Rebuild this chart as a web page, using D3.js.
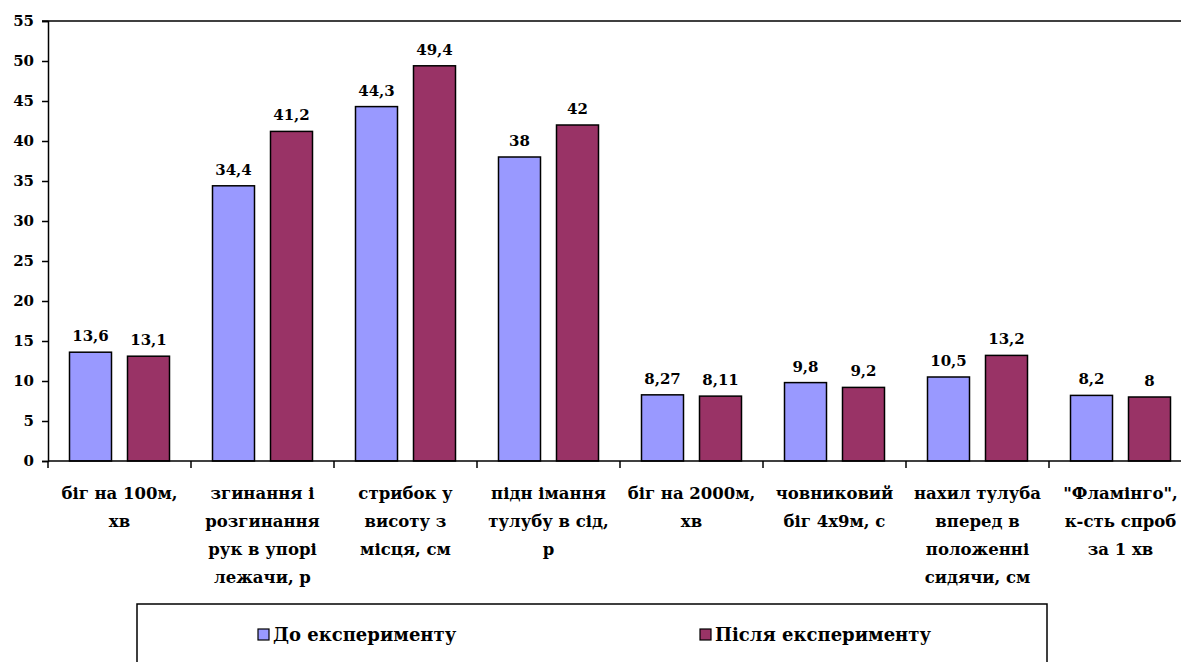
<!DOCTYPE html>
<html><head><meta charset="utf-8">
<script src="https://cdn.jsdelivr.net/npm/d3@7"></script>
<style>body{margin:0;background:#fff;} svg{display:block;}</style>
</head><body>
<svg id="c" width="1181" height="662"></svg>
<script>
const categories = [
  ["біг на 100м,", "хв"],
  ["згинання і", "розгинання", "рук в упорі", "лежачи, р"],
  ["стрибок у", "висоту з", "місця, см"],
  ["підн імання", "тулубу в сід,", "р"],
  ["біг на 2000м,", "хв"],
  ["човниковий", "біг 4х9м, с"],
  ["нахил тулуба", "вперед в", "положенні", "сидячи, см"],
  ["\"Фламінго\",", "к-сть спроб", "за 1 хв"]
];
const before = [13.6, 34.4, 44.3, 38, 8.27, 9.8, 10.5, 8.2];
const after = [13.1, 41.2, 49.4, 42, 8.11, 9.2, 13.2, 8];
const beforeLabels = ["13,6", "34,4", "44,3", "38", "8,27", "9,8", "10,5", "8,2"];
const afterLabels = ["13,1", "41,2", "49,4", "42", "8,11", "9,2", "13,2", "8"];
const seriesNames = ["До експерименту", "Після експерименту"];
const yTicks = [0, 5, 10, 15, 20, 25, 30, 35, 40, 45, 50, 55];
const colors = ["#9999FF", "#993366"];

(function(){
const FF = "DejaVu Serif, DejaVu Sans, serif";
const svg = d3.select("#c");
const left = 48, bandW = 143, topY = 21, bottomY = 461;
const x = d3.scaleBand().domain(d3.range(categories.length)).range([left, left + bandW * categories.length]).paddingInner(0).paddingOuter(0);
const y = d3.scaleLinear().domain([0, 55]).range([bottomY, topY]);
const barW = 42, gap = 16;
const off = (bandW - 2 * barW - gap) / 2;

svg.append("line").attr("x1", left - 6).attr("x2", 1181).attr("y1", y(55)).attr("y2", y(55)).attr("stroke", "#000").attr("stroke-width", 1.5);

const yAxis = d3.axisLeft(y).tickValues(yTicks).tickSize(6).tickPadding(8).tickFormat(d3.format("d"));
const gy = svg.append("g").attr("transform", `translate(${left},0)`).call(yAxis);
gy.attr("font-family", null);
gy.select(".domain").attr("stroke", "#000").attr("stroke-width", 1.5);
gy.selectAll(".tick line").attr("stroke", "#000").attr("stroke-width", 1.5);
gy.selectAll(".tick text").attr("font-family", FF).attr("font-size", 15).attr("font-weight", "bold").attr("fill", "#000");

const data = categories.map((c, i) => ({i, b: before[i], a: after[i], bl: beforeLabels[i], al: afterLabels[i]}));
data.forEach(d => {
  [[d.b, d.bl, 0], [d.a, d.al, 1]].forEach(([v, lab, s]) => {
    const bx = x(d.i) + off + s * (barW + gap);
    svg.append("rect").attr("x", bx).attr("y", y(v)).attr("width", barW).attr("height", y(0) - y(v))
      .attr("fill", colors[s]).attr("stroke", "#000").attr("stroke-width", 1.5);
    svg.append("text").attr("x", bx + barW / 2).attr("y", y(v) - 11).attr("text-anchor", "middle")
      .attr("font-family", FF).attr("font-weight", "bold").attr("font-size", 15).text(lab);
  });
});

const gx = svg.append("g");
gx.append("line").attr("x1", left).attr("x2", 1181).attr("y1", bottomY).attr("y2", bottomY).attr("stroke", "#000").attr("stroke-width", 1.5);
d3.range(categories.length + 1).forEach(k => {
  const tx = left + k * bandW;
  gx.append("line").attr("x1", tx).attr("x2", tx).attr("y1", bottomY).attr("y2", bottomY + 7).attr("stroke", "#000").attr("stroke-width", 1.5);
});

categories.forEach((lines, i) => {
  const t = svg.append("text").attr("text-anchor", "middle").attr("font-family", FF).attr("font-weight", "bold").attr("font-size", 16.5);
  lines.forEach((ln, j) => {
    t.append("tspan").attr("x", x(i) + bandW / 2).attr("y", 499 + j * 28).text(ln);
  });
});

svg.append("rect").attr("x", 137).attr("y", 604).attr("width", 910).attr("height", 80).attr("fill", "none").attr("stroke", "#000").attr("stroke-width", 1.5);
const legX = [258, 700];
seriesNames.forEach((n, s) => {
  svg.append("rect").attr("x", legX[s]).attr("y", 629).attr("width", 11).attr("height", 11).attr("fill", colors[s]).attr("stroke", "#000").attr("stroke-width", 1.2);
  svg.append("text").attr("x", legX[s] + 15).attr("y", 641).attr("font-family", FF).attr("font-weight", "bold").attr("font-size", 18).text(n);
});
})();
</script>
</body></html>
